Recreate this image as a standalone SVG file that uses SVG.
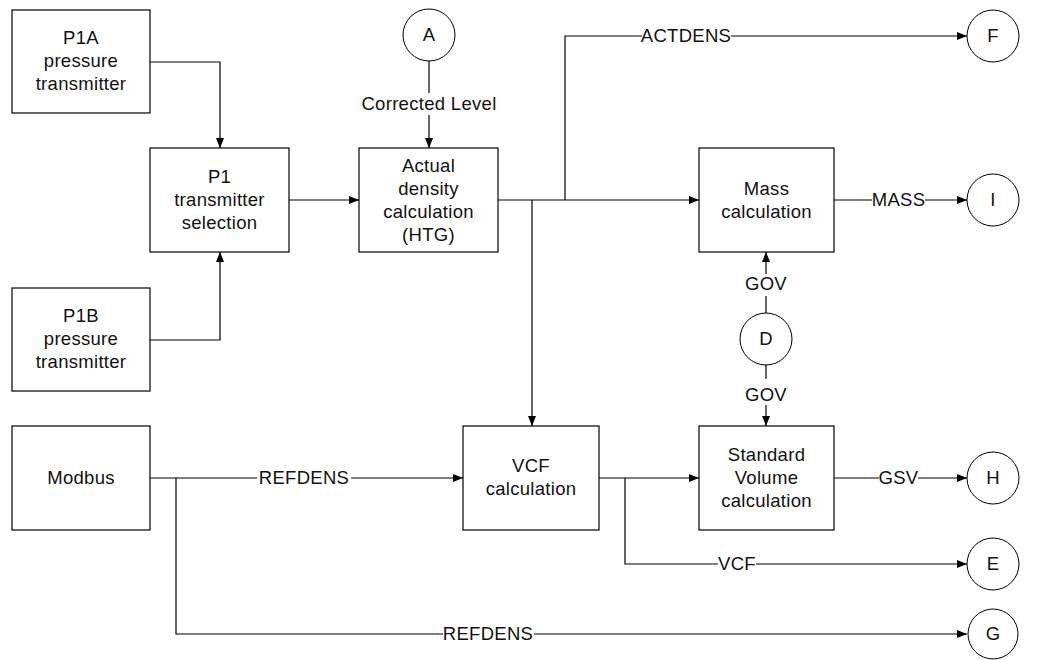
<svg xmlns="http://www.w3.org/2000/svg" width="1042" height="660" viewBox="0 0 1042 660">
<style>
  .box { fill: #ffffff; stroke: #000000; stroke-width: 1.2; }
  .circ { fill: #ffffff; stroke: #000000; stroke-width: 1; }
  .t { font-family: "Liberation Sans", Arial, sans-serif; font-size: 18.5px; letter-spacing: 0.3px; fill: #111111; text-anchor: middle; }
  .line { fill: none; stroke: #000000; stroke-width: 1.2; }
  .bg { fill: #ffffff; stroke: none; }
</style>
<defs>
  <marker id="arr" markerUnits="userSpaceOnUse" markerWidth="10" markerHeight="8" refX="10" refY="4" orient="auto">
    <path d="M0,0 L10,4 L0,8 z" fill="#000000"/>
  </marker>
</defs>
<rect width="1042" height="660" fill="#ffffff"/>

<g id="connectors">
  <path class="line" d="M150,62 H220 V148" marker-end="url(#arr)"/>
  <path class="line" d="M150,340 H220 V252" marker-end="url(#arr)"/>
  <path class="line" d="M289,200 H359" marker-end="url(#arr)"/>
  <path class="line" d="M429,61 V148" marker-end="url(#arr)"/>
  <path class="line" d="M498,200 H699" marker-end="url(#arr)"/>
  <path class="line" d="M532,200 V426" marker-end="url(#arr)"/>
  <path class="line" d="M565,200 V36 H967" marker-end="url(#arr)"/>
  <path class="line" d="M834,200 H967" marker-end="url(#arr)"/>
  <path class="line" d="M766,313 V252" marker-end="url(#arr)"/>
  <path class="line" d="M766,365 V426" marker-end="url(#arr)"/>
  <path class="line" d="M150,478 H463" marker-end="url(#arr)"/>
  <path class="line" d="M176,478 V634 H967" marker-end="url(#arr)"/>
  <path class="line" d="M599,478 H699" marker-end="url(#arr)"/>
  <path class="line" d="M625,478 V564 H967" marker-end="url(#arr)"/>
  <path class="line" d="M834,478 H967" marker-end="url(#arr)"/>
  <g id="labels">
    <rect class="bg" x="361" y="93" width="136" height="22"/>
    <text class="t" x="429" y="110">Corrected Level</text>
    <rect class="bg" x="642" y="30" width="89" height="12"/>
    <text class="t" x="686" y="42">ACTDENS</text>
    <rect class="bg" x="872" y="194" width="53" height="12"/>
    <text class="t" x="898.5" y="206">MASS</text>
    <rect class="bg" x="752" y="274" width="28" height="22"/>
    <text class="t" x="766" y="290">GOV</text>
    <rect class="bg" x="752" y="379" width="28" height="26"/>
    <text class="t" x="766" y="401">GOV</text>
    <rect class="bg" x="257" y="472" width="94" height="12"/>
    <text class="t" x="304" y="484">REFDENS</text>
    <rect class="bg" x="443" y="628" width="91" height="12"/>
    <text class="t" x="488" y="640">REFDENS</text>
    <rect class="bg" x="718" y="558" width="38" height="12"/>
    <text class="t" x="737" y="570">VCF</text>
    <rect class="bg" x="879" y="472" width="39" height="12"/>
    <text class="t" x="898.5" y="484">GSV</text>
  </g>
</g>

<g id="p1a">
  <rect class="box" x="12" y="10" width="138" height="103"/>
  <text class="t" x="81" y="44">P1A</text>
  <text class="t" x="81" y="67">pressure</text>
  <text class="t" x="81" y="90">transmitter</text>
</g>
<g id="p1sel">
  <rect class="box" x="150" y="148" width="139" height="104"/>
  <text class="t" x="219.5" y="183">P1</text>
  <text class="t" x="219.5" y="206">transmitter</text>
  <text class="t" x="219.5" y="229">selection</text>
</g>
<g id="p1b">
  <rect class="box" x="12" y="288" width="138" height="103"/>
  <text class="t" x="81" y="322">P1B</text>
  <text class="t" x="81" y="345">pressure</text>
  <text class="t" x="81" y="368">transmitter</text>
</g>
<g id="actual">
  <rect class="box" x="359" y="148" width="139" height="104"/>
  <text class="t" x="428.5" y="172">Actual</text>
  <text class="t" x="428.5" y="195">density</text>
  <text class="t" x="428.5" y="218">calculation</text>
  <text class="t" x="428.5" y="241">(HTG)</text>
</g>
<g id="mass">
  <rect class="box" x="699" y="148" width="135" height="104"/>
  <text class="t" x="766.5" y="195">Mass</text>
  <text class="t" x="766.5" y="218">calculation</text>
</g>
<g id="modbus">
  <rect class="box" x="12" y="426" width="138" height="104"/>
  <text class="t" x="81" y="484">Modbus</text>
</g>
<g id="vcf">
  <rect class="box" x="463" y="426" width="136" height="104"/>
  <text class="t" x="531" y="472">VCF</text>
  <text class="t" x="531" y="495">calculation</text>
</g>
<g id="stdvol">
  <rect class="box" x="699" y="426" width="135" height="104"/>
  <text class="t" x="766.5" y="461">Standard</text>
  <text class="t" x="766.5" y="484">Volume</text>
  <text class="t" x="766.5" y="507">calculation</text>
</g>
<g id="circA">
  <circle class="circ" cx="429" cy="35" r="26"/>
  <text class="t" x="429" y="41">A</text>
</g>
<g id="circF">
  <circle class="circ" cx="993" cy="36" r="26"/>
  <text class="t" x="993" y="42">F</text>
</g>
<g id="circI">
  <circle class="circ" cx="993" cy="200" r="26"/>
  <text class="t" x="993" y="206">I</text>
</g>
<g id="circD">
  <circle class="circ" cx="766" cy="339" r="26"/>
  <text class="t" x="766" y="345">D</text>
</g>
<g id="circH">
  <circle class="circ" cx="993" cy="478" r="26"/>
  <text class="t" x="993" y="484">H</text>
</g>
<g id="circE">
  <circle class="circ" cx="993" cy="564" r="26"/>
  <text class="t" x="993" y="570">E</text>
</g>
<g id="circG">
  <circle class="circ" cx="993" cy="634" r="25"/>
  <text class="t" x="993" y="640">G</text>
</g>
</svg>
